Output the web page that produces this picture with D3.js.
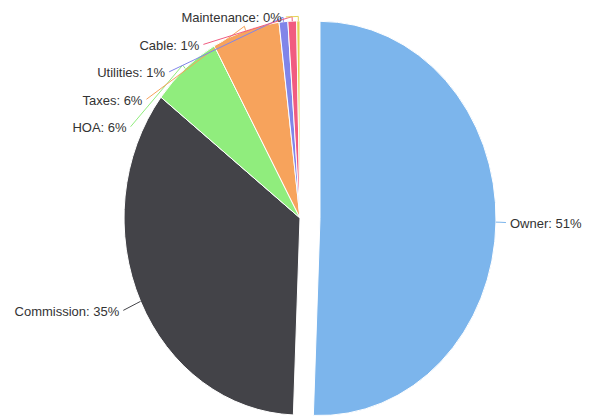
<!DOCTYPE html>
<html>
<head>
<meta charset="utf-8">
<script src="https://cdn.jsdelivr.net/npm/d3@7"></script>
<style>
  html, body { margin: 0; padding: 0; background: #fff; }
  svg { display: block; font-family: "Liberation Sans", Arial, sans-serif; }
</style>
</head>
<body>
<div id="chart"></div>
<script>
// Data (percent shares)
const categories = ["Owner", "Commission", "HOA", "Taxes", "Utilities", "Cable", "Maintenance"];
const values = [50.6, 34.9, 6.4, 6.2, 0.8, 0.8, 0.3];
const colours = ["#7cb5ec", "#434348", "#90ed7d", "#f7a35c", "#8085e9", "#f15c80", "#e4d354"];
const slicedCategory = "Owner";

const width = 595, height = 419;
const cx = 300, cy = 218, radius = 176, squash = 1.12;
const slicedOffset = 20;
// label layout
const labelRx = 190, labelRy = 180, labelNat = 195, labelGap = 24.5, labelTop = -179.5;

const total = d3.sum(values);
const data = categories.map((c, i) => ({
  name: c,
  value: values[i],
  colour: colours[i],
  pct: Math.round(values[i] / total * 100)
}));

const pie = d3.pie().sort(null).value(d => d.value);
const arcs = pie(data);
const arc = d3.arc().innerRadius(0).outerRadius(radius);

const svg = d3.select("#chart").append("svg")
  .attr("width", width)
  .attr("height", height);

// unscaled pie coords -> screen
const toScreen = (x, y) => [cx + x, cy + y * squash];

arcs.forEach(a => {
  a.mid = (a.startAngle + a.endAngle) / 2;
  const off = a.data.name === slicedCategory ? slicedOffset : 0;
  a.ox = Math.sin(a.mid) * off;
  a.oy = -Math.cos(a.mid) * off;
  a.left = a.mid > Math.PI;
  a.natX = labelNat * Math.sin(a.mid) + a.ox;
  a.natY = -labelNat * Math.cos(a.mid) + a.oy;
});

// Pie slices
const pieG = svg.append("g")
  .attr("transform", `translate(${cx},${cy}) scale(1,${squash})`);

pieG.selectAll("path")
  .data(arcs)
  .join("path")
  .attr("d", arc)
  .attr("transform", d => `translate(${d.ox},${d.oy})`)
  .attr("fill", d => d.data.colour)
  .attr("stroke", "#fff")
  .attr("stroke-width", 1)
  .attr("stroke-linejoin", "round")
  .attr("vector-effect", "non-scaling-stroke");

// Label placement: push crowded labels down from the top
[true, false].forEach(side => {
  const group = arcs.filter(a => a.left === side).sort((a, b) => a.natY - b.natY);
  let prev = null;
  group.forEach(a => {
    let y = Math.max(a.natY, labelTop);
    if (prev !== null) y = Math.max(y, prev + labelGap);
    a.labY = y;
    prev = y;
    const k = Math.sqrt(Math.max(0, 1 - (y / labelRy) ** 2));
    a.labX = side ? Math.min(-labelRx * k, a.natX) : a.ox + labelRx * k - 4;
  });
});

const labels = svg.append("g");

arcs.forEach(a => {
  const A = toScreen(a.labX, a.labY);
  const B = toScreen(a.ox + Math.sin(a.mid) * (radius + 4), a.oy - Math.cos(a.mid) * (radius + 4));
  const C = toScreen(a.ox + Math.sin(a.mid) * radius, a.oy - Math.cos(a.mid) * radius);

  labels.append("path")
    .attr("d", `M${A[0]},${A[1]} L${B[0]},${B[1]} L${C[0]},${C[1]}`)
    .attr("fill", "none")
    .attr("stroke", a.data.colour)
    .attr("stroke-width", 1);

  labels.append("text")
    .attr("x", a.left ? A[0] - 4 : A[0] + 4)
    .attr("y", A[1] + 1)
    .attr("text-anchor", a.left ? "end" : "start")
    .attr("dominant-baseline", "central")
    .attr("font-size", 13)
    .attr("fill", "#333")
    .text(`${a.data.name}: ${a.data.pct}%`);
});
</script>
</body>
</html>
